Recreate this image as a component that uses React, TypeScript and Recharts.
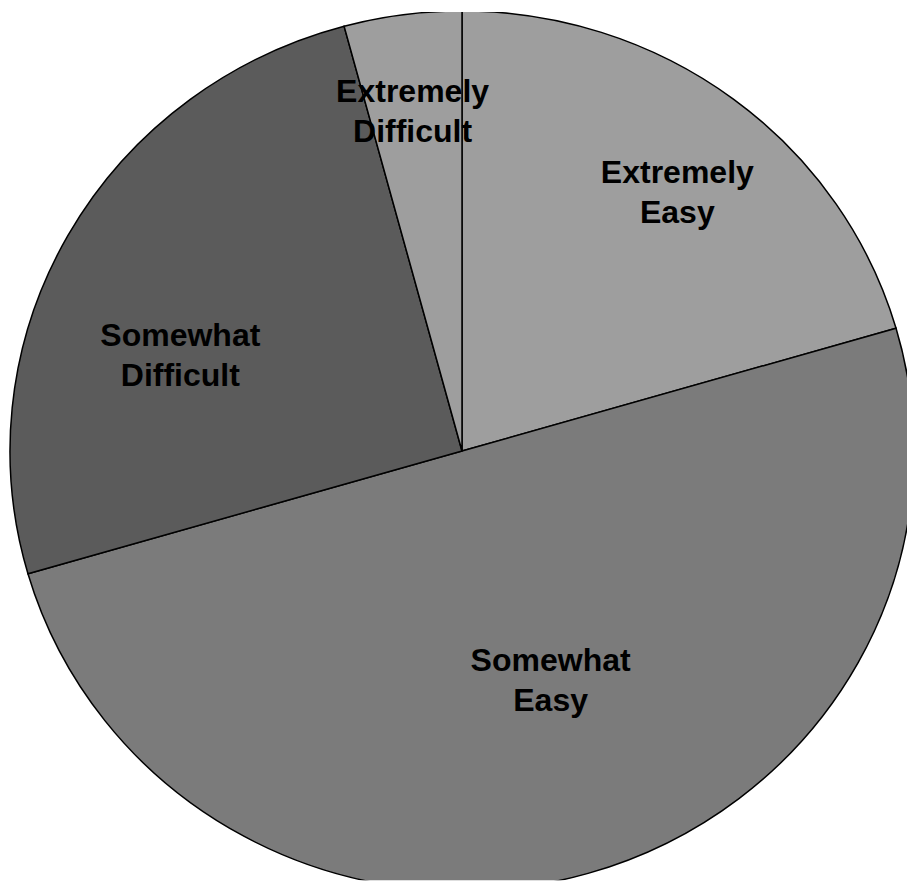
import React from "react";
import { PieChart, Pie, Cell } from "recharts";

const categories = ["Extremely Easy", "Somewhat Easy", "Somewhat Difficult", "Extremely Difficult"];
const values = [20.5, 50.0, 25.3, 4.2];
const colors = ["#9e9e9e", "#7b7b7b", "#5b5b5b", "#9e9e9e"];
// label placement: radius fraction and angular nudge (degrees) per slice
const labelRadius = [0.757, 0.556, 0.66, 0.78];
const labelNudge = [-2.1, 4.45, 10.1, 0.5];

const data = categories.map((name, i) => ({ name, value: values[i] }));

const SY = 0.9735;
const RAD = Math.PI / 180;

const renderLabel = (props: any) => {
  const { cx, cy, midAngle, outerRadius, index, name } = props;
  const a = (midAngle + labelNudge[index]) * RAD;
  const r = outerRadius * labelRadius[index];
  const x = cx + r * Math.cos(-a);
  const y = cy + r * Math.sin(-a);
  const sp = String(name).indexOf(" ");
  const lines = [String(name).slice(0, sp), String(name).slice(sp + 1)];
  return (
    <g transform={`translate(${x},${y}) scale(1,${1 / SY})`}>
      <text
        x={0}
        y={0}
        textAnchor="middle"
        fontFamily="'Liberation Sans', Arial, sans-serif"
        fontWeight="bold"
        fontSize={32}
        fill="#000"
      >
        <tspan x={0} y={-20} dominantBaseline="central">{lines[0]}</tspan>
        <tspan x={0} y={20} dominantBaseline="central">{lines[1]}</tspan>
      </text>
    </g>
  );
};

export default function App() {
  return (
    <div
      style={{
        position: "absolute",
        left: 0,
        top: 0,
        width: 907,
        height: 892,
        background: "#fff",
        transform: `scaleY(${SY})`,
        transformOrigin: "462px 451px",
      }}
    >
      <PieChart width={907} height={892} margin={{ top: 0, right: 0, bottom: 0, left: 0 }}>
        <Pie
          data={data}
          dataKey="value"
          nameKey="name"
          cx={462}
          cy={451}
          outerRadius={452}
          innerRadius={0}
          startAngle={90}
          endAngle={-270}
          stroke="#000"
          strokeWidth={1.5}
          labelLine={false}
          label={renderLabel}
          isAnimationActive={false}
        >
          {data.map((d, i) => (
            <Cell key={d.name} fill={colors[i]} stroke="#000" strokeWidth={1.5} />
          ))}
        </Pie>
      </PieChart>
    </div>
  );
}
